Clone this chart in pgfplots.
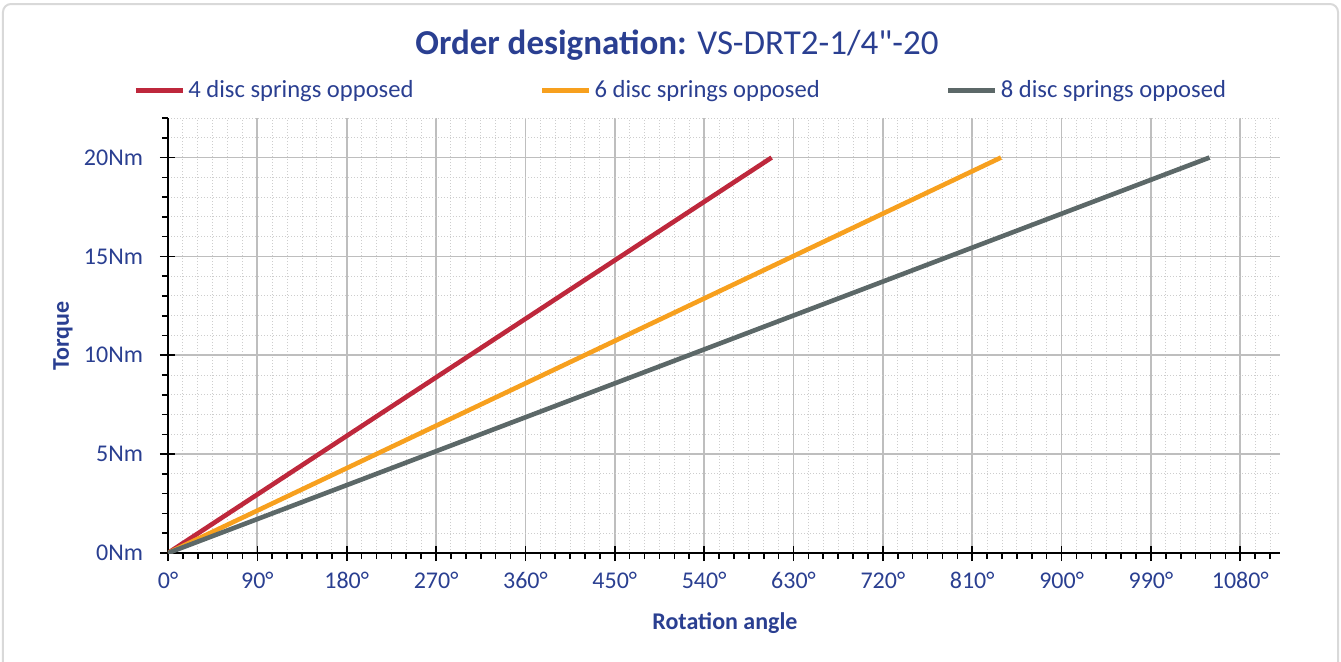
\documentclass[border=0pt]{standalone}
\usepackage{pgfplots}
\pgfplotsset{compat=1.18}
\usepackage{fontspec}
\setmainfont{Carlito}
\newfontfamily\nolig{Carlito}[Ligatures=TeXOff]
\definecolor{txtblue}{RGB}{42,63,145}
\definecolor{cred}{RGB}{190,40,60}
\definecolor{corange}{RGB}{247,160,30}
\definecolor{cgray}{RGB}{92,104,104}
\definecolor{majgrid}{RGB}{190,190,190}
\definecolor{mingrid}{RGB}{205,205,205}
\definecolor{frame}{RGB}{217,217,217}
\begin{document}
\begin{tikzpicture}
\begin{axis}[
  name=ax, at={(0,0)}, anchor=south west,
  scale only axis, width=556pt, height=217.5pt,
  xmin=0, xmax=1120, ymin=0, ymax=22,
  axis lines*=left,
  axis line style={black, line width=1pt},
  xtick={0,90,...,1080},
  xticklabels={0°,90°,180°,270°,360°,450°,540°,630°,720°,810°,900°,990°,1080°},
  minor xtick={0,15,...,1110},
  ytick={0,5,...,20},
  yticklabels={0Nm,5Nm,10Nm,15Nm,20Nm},
  minor ytick={0,1,...,22},
  tick align=outside,
  major tick length=4pt, minor tick length=3pt,
  tick style={black, line width=0.8pt},
  extra x ticks={0,90,...,1080}, extra x tick labels={},
  extra y ticks={0,5,...,20}, extra y tick labels={},
  extra x tick style={tick align=inside, grid=none, major tick length=3.5pt},
  extra y tick style={tick align=inside, grid=none, major tick length=3.5pt},
  grid=both,
  major grid style={majgrid, line width=0.9pt},
  minor grid style={mingrid, line width=0.5pt, densely dotted},
  ticklabel style={font=\fontsize{12}{14}\selectfont, text=txtblue},
  xticklabel shift=2pt,
  yticklabel shift=5pt,
  xlabel={Rotation angle},
  ylabel={Torque},
  label style={font=\fontsize{12}{14}\selectfont\bfseries, text=txtblue},
  xlabel style={at={(axis description cs:0.5009,-0.161)}, anchor=center},
  ylabel style={at={(axis description cs:-0.0944,0.4989)}, anchor=center},
  legend columns=3,
  legend style={draw=none, fill=none, at={(axis description cs:-0.0315,1.064)}, anchor=west,
    font=\fontsize{12.3}{14}\selectfont, text=txtblue,
    /tikz/every even column/.append style={column sep=61.5pt},
    inner sep=0pt, nodes={inner sep=1.5pt}},
  legend image code/.code={\draw[#1, line width=2.5pt] (0pt,0pt) -- (23.5pt,0pt);},
  every axis plot/.append style={line width=2.3pt},
]
\addplot[cred] coordinates {(0,0) (608,20)};
\addlegendentry{4 disc springs opposed}
\addplot[corange] coordinates {(0,0) (839,20)};
\addlegendentry{6 disc springs opposed}
\addplot[cgray] coordinates {(0,0) (1049,20)};
\addlegendentry{8 disc springs opposed}
\end{axis}
\node[text=txtblue, font=\fontsize{17.5}{20}\selectfont] at (254.5pt,254pt) {\textbf{Order designation:} VS-DRT2-1/4{\nolig "}-20};
\draw[frame, line width=1pt, rounded corners=4pt] (-82.5pt,-58.5pt) rectangle (585pt,274.5pt);
\pgfresetboundingbox
\useasboundingbox (-84pt,-54pt) rectangle (586.5pt,276.5pt);
\end{tikzpicture}
\end{document}
